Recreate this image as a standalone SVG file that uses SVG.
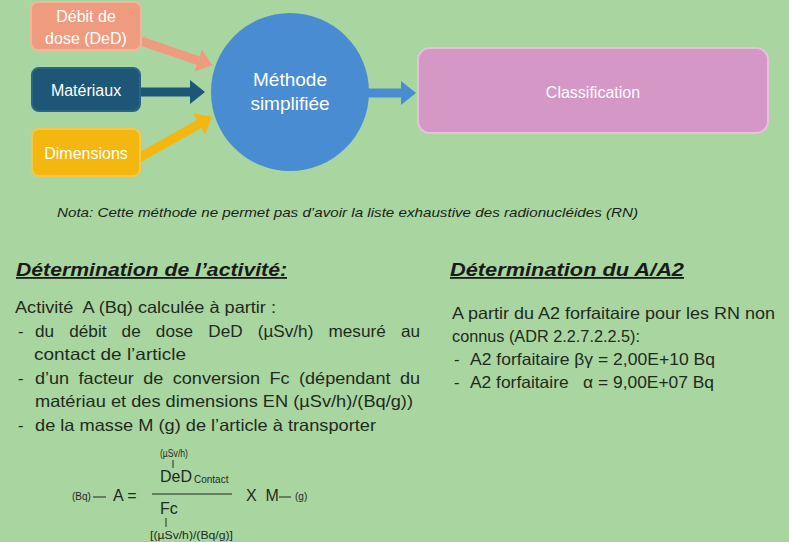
<svg xmlns="http://www.w3.org/2000/svg" width="789" height="542" viewBox="0 0 789 542">
<defs>
<style>
.bg{fill:#a9d6a0}
.box{stroke-width:2}
.wt{fill:#ffffff;font-family:"Liberation Sans",Arial,sans-serif;text-anchor:middle}
.body{fill:#1f2a1f;font-family:"Liberation Sans",Arial,sans-serif;font-size:16.5px}
.head{fill:#1a1a1a;font-family:"Liberation Sans",Arial,sans-serif;font-size:18px;font-weight:bold;font-style:italic;text-decoration:underline}
.small{fill:#1f2a1f;font-family:"Liberation Sans",Arial,sans-serif;font-size:10px}
.frm{fill:#1f2a1f;font-family:"Liberation Sans",Arial,sans-serif;font-size:16px}
.ln{stroke:#1f2a1f;stroke-width:1;fill:none}
</style>
<marker id="hSal" markerUnits="userSpaceOnUse" markerWidth="16" markerHeight="24" refX="0" refY="12" orient="auto"><path d="M0,0 L15,12 L0,24 z" fill="#ef9b7f"/></marker>
<marker id="hNavy" markerUnits="userSpaceOnUse" markerWidth="16" markerHeight="24" refX="0" refY="12" orient="auto"><path d="M0,0 L15,12 L0,24 z" fill="#1d5676"/></marker>
<marker id="hGold" markerUnits="userSpaceOnUse" markerWidth="16" markerHeight="24" refX="0" refY="12" orient="auto"><path d="M0,0 L15,12 L0,24 z" fill="#f4b710"/></marker>
<marker id="hBlue" markerUnits="userSpaceOnUse" markerWidth="16" markerHeight="24" refX="0" refY="12" orient="auto"><path d="M0,0 L15,12 L0,24 z" fill="#4a8cd2"/></marker>
</defs>
<rect class="bg" x="0" y="0" width="789" height="542"/>

<g id="connectors">
<line x1="135" y1="39" x2="198" y2="60.5" stroke="#ef9b7f" stroke-width="9" marker-end="url(#hSal)"/>
<line x1="135" y1="92" x2="190" y2="92" stroke="#1d5676" stroke-width="9" marker-end="url(#hNavy)"/>
<line x1="135" y1="160" x2="199" y2="124" stroke="#f4b710" stroke-width="9" marker-end="url(#hGold)"/>
<line x1="360" y1="93" x2="401" y2="93" stroke="#4a8cd2" stroke-width="9" marker-end="url(#hBlue)"/>
</g>

<g id="node-debit">
<rect class="box" x="31" y="2" width="110" height="48" rx="7" fill="#ef9b7f" stroke="#f3b59a"/>
<text class="wt" x="86" y="22" font-size="16">Débit de</text>
<text class="wt" x="86" y="44" font-size="16">dose (DeD)</text>
</g>
<g id="node-materiaux">
<rect class="box" x="32" y="68" width="108" height="43" rx="7" fill="#1d5676" stroke="#2b6585"/>
<text class="wt" x="86" y="96" font-size="16">Matériaux</text>
</g>
<g id="node-dimensions">
<rect class="box" x="32" y="129" width="108" height="47" rx="7" fill="#f4b710" stroke="#f6c84a"/>
<text class="wt" x="86" y="159" font-size="16">Dimensions</text>
</g>
<g id="node-methode">
<circle cx="290" cy="92" r="79" fill="#4a8cd2"/>
<text class="wt" x="290" y="86" font-size="19">Méthode</text>
<text class="wt" x="290" y="110" font-size="19">simplifiée</text>
</g>
<g id="node-classification">
<rect class="box" x="418" y="48" width="350" height="85" rx="12" fill="#d497c6" stroke="#e6c0dc"/>
<text class="wt" x="593" y="98" font-size="16">Classification</text>
</g>

<text x="57" y="217" fill="#1a1f1a" font-family="'Liberation Sans',Arial,sans-serif" font-size="13" font-style="italic" textLength="581" lengthAdjust="spacingAndGlyphs">Nota: Cette méthode ne permet pas d’avoir la liste exhaustive des radionucléides (RN)</text>

<g id="activite">
<text class="head" x="16" y="276" textLength="271" lengthAdjust="spacingAndGlyphs">Détermination de l’activité:</text>
<text class="body" x="15" y="313" xml:space="preserve" textLength="261" lengthAdjust="spacingAndGlyphs">Activité  A (Bq) calculée à partir :</text>
<text class="body" x="18" y="337">-</text>
<text class="body" x="35" y="337" word-spacing="10" textLength="385" lengthAdjust="spacingAndGlyphs">du débit de dose DeD (µSv/h) mesuré au</text>
<text class="body" x="34" y="360" textLength="152" lengthAdjust="spacingAndGlyphs">contact de l’article</text>
<text class="body" x="18" y="384">-</text>
<text class="body" x="35" y="384" word-spacing="4" textLength="385" lengthAdjust="spacingAndGlyphs">d’un facteur de conversion Fc (dépendant du</text>
<text class="body" x="35" y="407" textLength="378" lengthAdjust="spacingAndGlyphs">matériau et des dimensions EN (µSv/h)/(Bq/g))</text>
<text class="body" x="18" y="431">-</text>
<text class="body" x="35" y="431" textLength="341" lengthAdjust="spacingAndGlyphs">de la masse M (g) de l’article à transporter</text>
</g>

<g id="formule">
<text class="small" x="160" y="457" textLength="28" lengthAdjust="spacingAndGlyphs">(µSv/h)</text>
<line class="ln" x1="173" y1="460" x2="173" y2="468"/>
<text class="frm" x="160" y="482">DeD</text>
<text class="small" x="194" y="483">Contact</text>
<line class="ln" x1="152" y1="494" x2="232" y2="494"/>
<text class="small" x="72" y="500">(Bq)</text>
<line class="ln" x1="93" y1="497" x2="106" y2="497"/>
<text class="frm" x="113" y="501" font-size="15">A =</text>
<text class="frm" x="246" y="501" font-size="15" xml:space="preserve">X  M</text>
<line class="ln" x1="279" y1="497" x2="291" y2="497"/>
<text class="small" x="295" y="500">(g)</text>
<text class="frm" x="160" y="514">Fc</text>
<line class="ln" x1="166" y1="518" x2="166" y2="527"/>
<text class="small" x="150" y="539" textLength="83" lengthAdjust="spacingAndGlyphs">[(µSv/h)/(Bq/g)]</text>
</g>

<g id="a2">
<text class="head" x="450" y="276" textLength="234" lengthAdjust="spacingAndGlyphs">Détermination du A/A2</text>
<text class="body" x="452" y="319" textLength="323" lengthAdjust="spacingAndGlyphs">A partir du A2 forfaitaire pour les RN non</text>
<text class="body" x="452" y="342" textLength="188" lengthAdjust="spacingAndGlyphs">connus (ADR 2.2.7.2.2.5):</text>
<text class="body" x="454" y="365">-</text>
<text class="body" x="470" y="365" textLength="245" lengthAdjust="spacingAndGlyphs">A2 forfaitaire βγ = 2,00E+10 Bq</text>
<text class="body" x="454" y="388">-</text>
<text class="body" x="470" y="388" xml:space="preserve" textLength="244" lengthAdjust="spacingAndGlyphs">A2 forfaitaire   α = 9,00E+07 Bq</text>
</g>
</svg>
